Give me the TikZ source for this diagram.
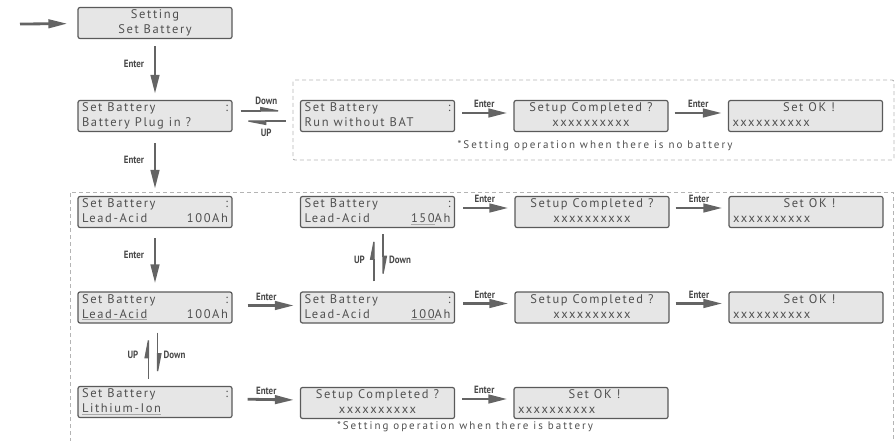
\documentclass[tikz,border=0pt]{standalone}
\usepackage{fontspec}
\usetikzlibrary{arrows.meta,calc,positioning}
\newfontfamily\lcdfont[LetterSpace=13]{PT Sans}
\newfontfamily\keyfont[FakeStretch=0.85]{PT Sans}
\newfontfamily\notefont[LetterSpace=18]{PT Sans}
\definecolor{boxfill}{HTML}{E6E6E6}
\definecolor{boxline}{HTML}{5A5A5A}
\definecolor{lcdtext}{HTML}{505050}
\definecolor{keytext}{HTML}{484848}
\definecolor{arrowgray}{HTML}{646464}
\definecolor{dashgray}{HTML}{B4B4B4}
\definecolor{ulgray}{HTML}{A8A8A8}
\newlength\lcdw
\setlength\lcdw{146pt}
\newcommand\lcdstrut{\rule[-3pt]{0pt}{12pt}}
\newcommand\lcdlr[2]{\makebox[\lcdw][l]{\lcdstrut#1\hfill#2}}
\newcommand\lcdcc[1]{\makebox[\lcdw][c]{\lcdstrut#1}}
\newcommand\lcdul[1]{\setbox0=\hbox{#1}\rlap{\color{ulgray}\rule[-2.2pt]{\wd0}{0.8pt}}\box0}

\begin{document}
\begin{tikzpicture}[x=1pt,y=-1pt,
    lcdbox/.style={draw=boxline, fill=boxfill, line width=1.2pt, rounded corners=2pt,
        minimum width=154pt, minimum height=31pt, inner sep=0pt, align=left,
        text=lcdtext, font=\lcdfont\fontsize{12.5pt}{15pt}\selectfont},
    enterarrow/.style={draw=arrowgray, line width=2.8pt, -{Triangle[length=19pt,width=8.5pt]}},
    harparrow/.style={draw=arrowgray, line width=1.4pt, -{Triangle[harpoon,length=22pt,width=8pt]}},
    keylabel/.style={font=\keyfont\bfseries\fontsize{10.5pt}{12pt}\selectfont, text=keytext, inner sep=0.5pt},
    note/.style={font=\notefont\fontsize{11pt}{13pt}\selectfont, text=lcdtext, inner sep=0pt},
    dashregion/.style={draw=dashgray, line width=0.9pt, dash pattern=on 4pt off 3pt}]
    \useasboundingbox (0,0) rectangle (896,441);

    % Regions with and without battery
    \draw[dashregion, rounded corners=2pt] (293,80) rectangle (894,160);
    \draw[dashregion] (70,470) -- (70,192) -- (893,192) -- (893,470);

    % Entry screens
    \node[lcdbox] (setting) at (155,23) {\lcdcc{Setting}\\\lcdcc{Set Battery}};
    \node[lcdbox] (plug) at (155,116) {\lcdlr{Set Battery}{:}\\\lcdlr{Battery Plug in ?}{}};

    % No battery
    \node[lcdbox] (nobat) at (377.5,116) {\lcdlr{Set Battery}{:}\\\lcdlr{Run without BAT}{}};
    \node[lcdbox] (nobatdone) at (591,116) {\lcdcc{Setup Completed ?}\\\lcdcc{xxxxxxxxxx}};
    \node[lcdbox] (nobatok) at (805.5,116) {\lcdcc{\hspace*{7pt}Set OK !}\\\lcdlr{xxxxxxxxxx}{}};
    \node[note] (nobatnote) at (595,146) {*Setting operation when there is no battery};

    % Battery - row 1
    \node[lcdbox] (lead) at (155,212) {\lcdlr{Set Battery}{:}\\\lcdlr{Lead-Acid}{100Ah}};
    \node[lcdbox] (capup) at (377.5,212) {\lcdlr{Set Battery}{:}\\\lcdlr{Lead-Acid}{\lcdul{150}Ah}};
    \node[lcdbox] (capupdone) at (592,212) {\lcdcc{Setup Completed ?}\\\lcdcc{xxxxxxxxxx}};
    \node[lcdbox] (capupok) at (806,212) {\lcdcc{\hspace*{7pt}Set OK !}\\\lcdlr{xxxxxxxxxx}{}};

    % Battery - row 2
    \node[lcdbox] (leadsel) at (155,307.5) {\lcdlr{Set Battery}{:}\\\lcdlr{\lcdul{Lead-Acid}}{100Ah}};
    \node[lcdbox] (cap) at (377.5,307.5) {\lcdlr{Set Battery}{:}\\\lcdlr{Lead-Acid}{\lcdul{100}Ah}};
    \node[lcdbox] (capdone) at (592,307.5) {\lcdcc{Setup Completed ?}\\\lcdcc{xxxxxxxxxx}};
    \node[lcdbox] (capok) at (806,307.5) {\lcdcc{\hspace*{7pt}Set OK !}\\\lcdlr{xxxxxxxxxx}{}};

    % Battery - row 3
    \node[lcdbox] (lith) at (155,402) {\lcdlr{Set Battery}{:}\\\lcdlr{\lcdul{Lithium-Ion}}{}};
    \node[lcdbox] (lithdone) at (377.5,403) {\lcdcc{Setup Completed ?}\\\lcdcc{xxxxxxxxxx}};
    \node[lcdbox] (lithok) at (591,403) {\lcdcc{\hspace*{7pt}Set OK !}\\\lcdlr{xxxxxxxxxx}{}};
    \node[note] (batnote) at (465,427) {*Setting operation when there is battery};

    % Enter arrows
    \coordinate (in) at (20,24);
    \draw[enterarrow, shorten >=10pt] (in) -- (setting);
    \draw[enterarrow, shorten <=7pt, shorten >=6pt] (setting) -- node[keylabel, pos=0.4, left=9pt] (enter1) {Enter} (plug);
    \draw[enterarrow, shorten <=11pt, shorten >=7pt] (plug) -- node[keylabel, pos=0.44, left=9pt] (enter2) {Enter} (lead);
    \draw[enterarrow, shorten <=10pt, shorten >=8pt] (lead) -- node[keylabel, pos=0.42, left=9pt] (enter3) {Enter} (leadsel);

    \draw[enterarrow, shorten <=7pt, shorten >=6pt] ([yshift=3pt]nobat.east) -- node[keylabel, above=3pt] (enter4) {Enter} ([yshift=3pt]nobatdone.west);
    \draw[enterarrow, shorten <=6pt, shorten >=6pt] ([yshift=3pt]nobatdone.east) -- node[keylabel, above=3pt] (enter5) {Enter} ([yshift=3pt]nobatok.west);
    \draw[enterarrow, shorten <=8pt, shorten >=6pt] ([yshift=4pt]capup.east) -- node[keylabel, above=3pt] (enter6) {Enter} ([yshift=4pt]capupdone.west);
    \draw[enterarrow, shorten <=6pt, shorten >=6pt] ([yshift=4pt]capupdone.east) -- node[keylabel, above=3pt] (enter7) {Enter} ([yshift=4pt]capupok.west);
    \draw[enterarrow, shorten <=15pt, shorten >=6pt] ([yshift=2pt]leadsel.east) -- node[keylabel, above=3pt] (enter8) {Enter} ([yshift=2pt]cap.west);
    \draw[enterarrow, shorten <=8pt, shorten >=6pt] ([yshift=4pt]cap.east) -- node[keylabel, above=3pt] (enter9) {Enter} ([yshift=4pt]capdone.west);
    \draw[enterarrow, shorten <=6pt, shorten >=6pt] ([yshift=4pt]capdone.east) -- node[keylabel, above=3pt] (enter10) {Enter} ([yshift=4pt]capok.west);
    \draw[enterarrow, shorten <=15pt, shorten >=6pt] ([yshift=3pt]lith.east) -- node[keylabel, above=3pt] (enter11) {Enter} ([yshift=3pt]lithdone.west);
    \draw[enterarrow, shorten <=7pt, shorten >=6pt] ([yshift=4pt]lithdone.east) -- node[keylabel, above=3pt] (enter12) {Enter} ([yshift=4pt]lithok.west);

    % Down / UP pairs
    \draw[harparrow, shorten <=8pt, shorten >=14pt] ([yshift=5pt]plug.east) -- node[keylabel, above=5pt] (down1) {Down} ([yshift=5pt]nobat.west);
    \draw[harparrow, shorten <=14pt, shorten >=8pt] ([yshift=-5pt]nobat.west) -- node[keylabel, below=7pt] (up1) {UP} ([yshift=-5pt]plug.east);

    \draw[harparrow, shorten <=10pt, shorten >=6pt] ([xshift=-3.5pt]cap.north) -- node[keylabel, left=8pt] (up2) {UP} ([xshift=-3.5pt]capup.south);
    \draw[harparrow, shorten <=6pt, shorten >=10pt] ([xshift=5.5pt]capup.south) -- node[keylabel, right=5pt] (down2) {Down} ([xshift=5.5pt]cap.north);

    \draw[harparrow, shorten <=7pt, shorten >=9pt] ([xshift=-6.5pt]lith.north) -- node[keylabel, left=9pt] (up3) {UP} ([xshift=-6.5pt]leadsel.south);
    \draw[harparrow, shorten <=9pt, shorten >=7pt] ([xshift=2.5pt]leadsel.south) -- node[keylabel, right=5pt] (down3) {Down} ([xshift=2.5pt]lith.north);
\end{tikzpicture}
\end{document}
